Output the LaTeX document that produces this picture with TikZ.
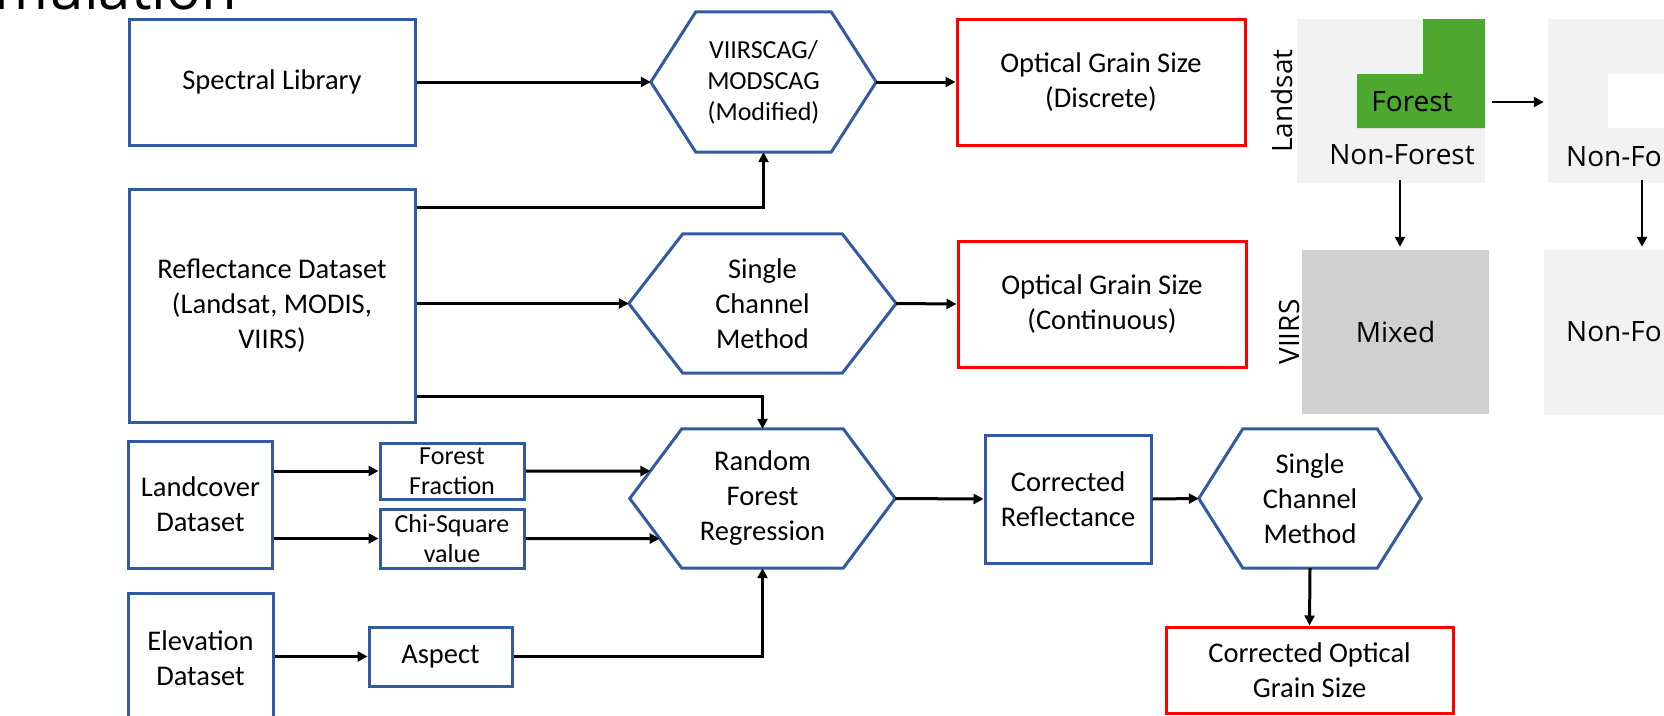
\documentclass[tikz,border=0pt]{standalone}
\usepackage{fontspec}
\setmainfont{Carlito}
\newfontfamily\aptos{Open Sans}
\usetikzlibrary{arrows.meta}
\definecolor{boxblue}{RGB}{50,90,160}
\definecolor{cellgray}{RGB}{242,242,242}
\definecolor{mixgray}{RGB}{208,208,208}
\definecolor{forestgreen}{RGB}{78,167,46}
\newcommand\hexoutline[2]{%
  \coordinate (#1-nw) at ([xshift=#2pt]#1.north west);
  \coordinate (#1-ne) at ([xshift=-#2pt]#1.north east);
  \coordinate (#1-se) at ([xshift=-#2pt]#1.south east);
  \coordinate (#1-sw) at ([xshift=#2pt]#1.south west);
  \draw[hexline] (#1.west) -- (#1-nw) -- (#1-ne) -- (#1.east) -- (#1-se) -- (#1-sw) -- cycle;}
\begin{document}
\begin{tikzpicture}[x=1pt,y=-1pt,
  box/.style={draw=boxblue,line width=3pt,align=center,inner sep=0pt,font=\fontsize{28.5}{35}\selectfont},
  smallbox/.style={box,font=\fontsize{26}{30}\selectfont},
  outbox/.style={box,draw=red},
  hex/.style={draw=none,align=center,inner sep=0pt,font=\fontsize{28.5}{35}\selectfont},
  hexline/.style={draw=boxblue,line width=3pt,line join=miter},
  arr/.style={line width=3pt,-{Triangle[length=10pt,width=10pt]}},
  thinarr/.style={line width=2.5pt,-{Triangle[length=10pt,width=10pt]}},
  cell/.style={inner sep=0pt,font=\aptos\fontsize{28}{32}\selectfont},
  celltext/.style={inner sep=0pt,font=\aptos\fontsize{28}{32}\selectfont}]
\useasboundingbox (0,0) rectangle (1664,715);
% title, cut by the page edge
\node[anchor=base east,inner sep=0pt,font=\aptos\fontsize{58}{66}\selectfont] (title) at (237,9) {Simulation};
% inputs
\node[box,minimum width=286,minimum height=126] (speclib) at (272,82) {Spectral Library};
\node[box,minimum width=286,minimum height=233] (refl) at (272,305.5) {Reflectance Dataset\\(Landsat, MODIS,\\VIIRS)};
\node[box,minimum width=144,minimum height=127] (landcov) at (200.5,504.5) {Landcover\\Dataset};
\node[box,minimum width=145,minimum height=130] (elev) at (200.5,658) {Elevation\\Dataset};
\node[smallbox,minimum width=144,minimum height=56] (ffrac) at (452,471) {Forest\\Fraction};
\node[smallbox,minimum width=144,minimum height=59] (chisq) at (452,538.5) {Chi-Square\\value};
\node[box,minimum width=143,minimum height=59] (aspect) at (440.5,656.5) {Aspect};
% methods
\node[hex,minimum width=225,minimum height=140,font=\fontsize{26}{31}\selectfont] (scag) at (763.5,82) {VIIRSCAG/\\MODSCAG\\(Modified)};
\hexoutline{scag}{45}
\node[hex,minimum width=267,minimum height=139] (scm) at (762.5,303.5) {Single\\Channel\\Method};
\hexoutline{scm}{54}
\node[hex,minimum width=265,minimum height=139] (rfr) at (762.5,498.5) {Random\\Forest\\Regression};
\hexoutline{rfr}{52}
\node[box,minimum width=166,minimum height=128] (corrrefl) at (1068,499) {Corrected\\Reflectance};
\node[hex,minimum width=222,minimum height=139] (scmb) at (1310,498.5) {Single\\Channel\\Method};
\hexoutline{scmb}{44}
% outputs
\node[outbox,minimum width=288,minimum height=126] (ogsd) at (1101,82) {Optical Grain Size\\(Discrete)};
\node[outbox,minimum width=288,minimum height=126] (ogsc) at (1102,304) {Optical Grain Size\\(Continuous)};
\node[outbox,minimum width=287,minimum height=86] (cogs) at (1309.5,670) {Corrected Optical\\Grain Size};
% connectors
\coordinate (ffx) at (ffrac.east -| rfr.east);
\coordinate (chx) at (chisq.east -| rfr.east);
\draw[arr] (speclib.east) -- (scag.west);
\draw[arr] (scag.east) -- (ogsd.west);
\draw[arr] ([yshift=-20pt]refl.north east) -| (scag.south);
\draw[arr] (refl.east |- scm.west) -- (scm.west);
\draw[arr] ([yshift=27pt]refl.south east) -| (rfr.north);
\draw[arr] (scm.east) -- (ogsc.west);
\draw[arr] (landcov.east |- ffrac) -- (ffrac.west);
\draw[arr] (landcov.east |- chisq) -- (chisq.west);
\draw[arr] (ffrac.east) -- (intersection of ffrac.east--ffx and rfr.west--rfr-nw);
\draw[arr] (chisq.east) -- (intersection of chisq.east--chx and rfr.west--rfr-sw);
\draw[arr] (elev.east |- aspect) -- (aspect.west);
\draw[arr] (aspect.east) -| (rfr.south);
\draw[arr] (rfr.east) -- (corrrefl.west);
\draw[arr] (corrrefl.east) -- (scmb.west);
\draw[arr] (scmb.south) -- (cogs.north);
% landsat / viirs panel
\node[cell,fill=cellgray,minimum width=188,minimum height=164] (lsa) at (1391,101) {};
\fill[forestgreen] (1423,19) rectangle (1485,74) (1357,74) rectangle (1485,128);
\node[celltext] (lsaforest) at (1412,102) {Forest};
\node[celltext] (lsanon) at (1402,155) {Non-Forest};
\node[cell,fill=cellgray,minimum width=160,minimum height=164] (lsb) at (1628,101) {};
\fill[white] (1608,74) rectangle (1700,128);
\node[celltext,anchor=base west] (lsbnon) at (1566,166) {Non-Forest};
\node[cell,fill=mixgray,minimum width=187,minimum height=164] (via) at (1395.5,332) {Mixed};
\node[cell,fill=cellgray,minimum width=160,minimum height=165] (vib) at (1624,332.5) {};
\node[celltext,anchor=base west] (vibnon) at (1566,341) {Non-Forest};
\node[celltext,rotate=90] (lslabel) at (1282,101) {Landsat};
\node[celltext,rotate=90] (vilabel) at (1289,332) {VIIRS};
\draw[thinarr] ([xshift=7pt]lsa.east |- lsaforest) -- ([xshift=-4pt]lsb.west |- lsaforest);
\draw[thinarr] ([xshift=9pt,yshift=3pt]lsa.south) -- ([xshift=9pt,yshift=3pt]lsa.south |- via.north);
\draw[thinarr] ([xshift=14pt,yshift=3pt]lsb.south) -- ([xshift=14pt,yshift=3pt]lsb.south |- vib.north);
\end{tikzpicture}
\end{document}
